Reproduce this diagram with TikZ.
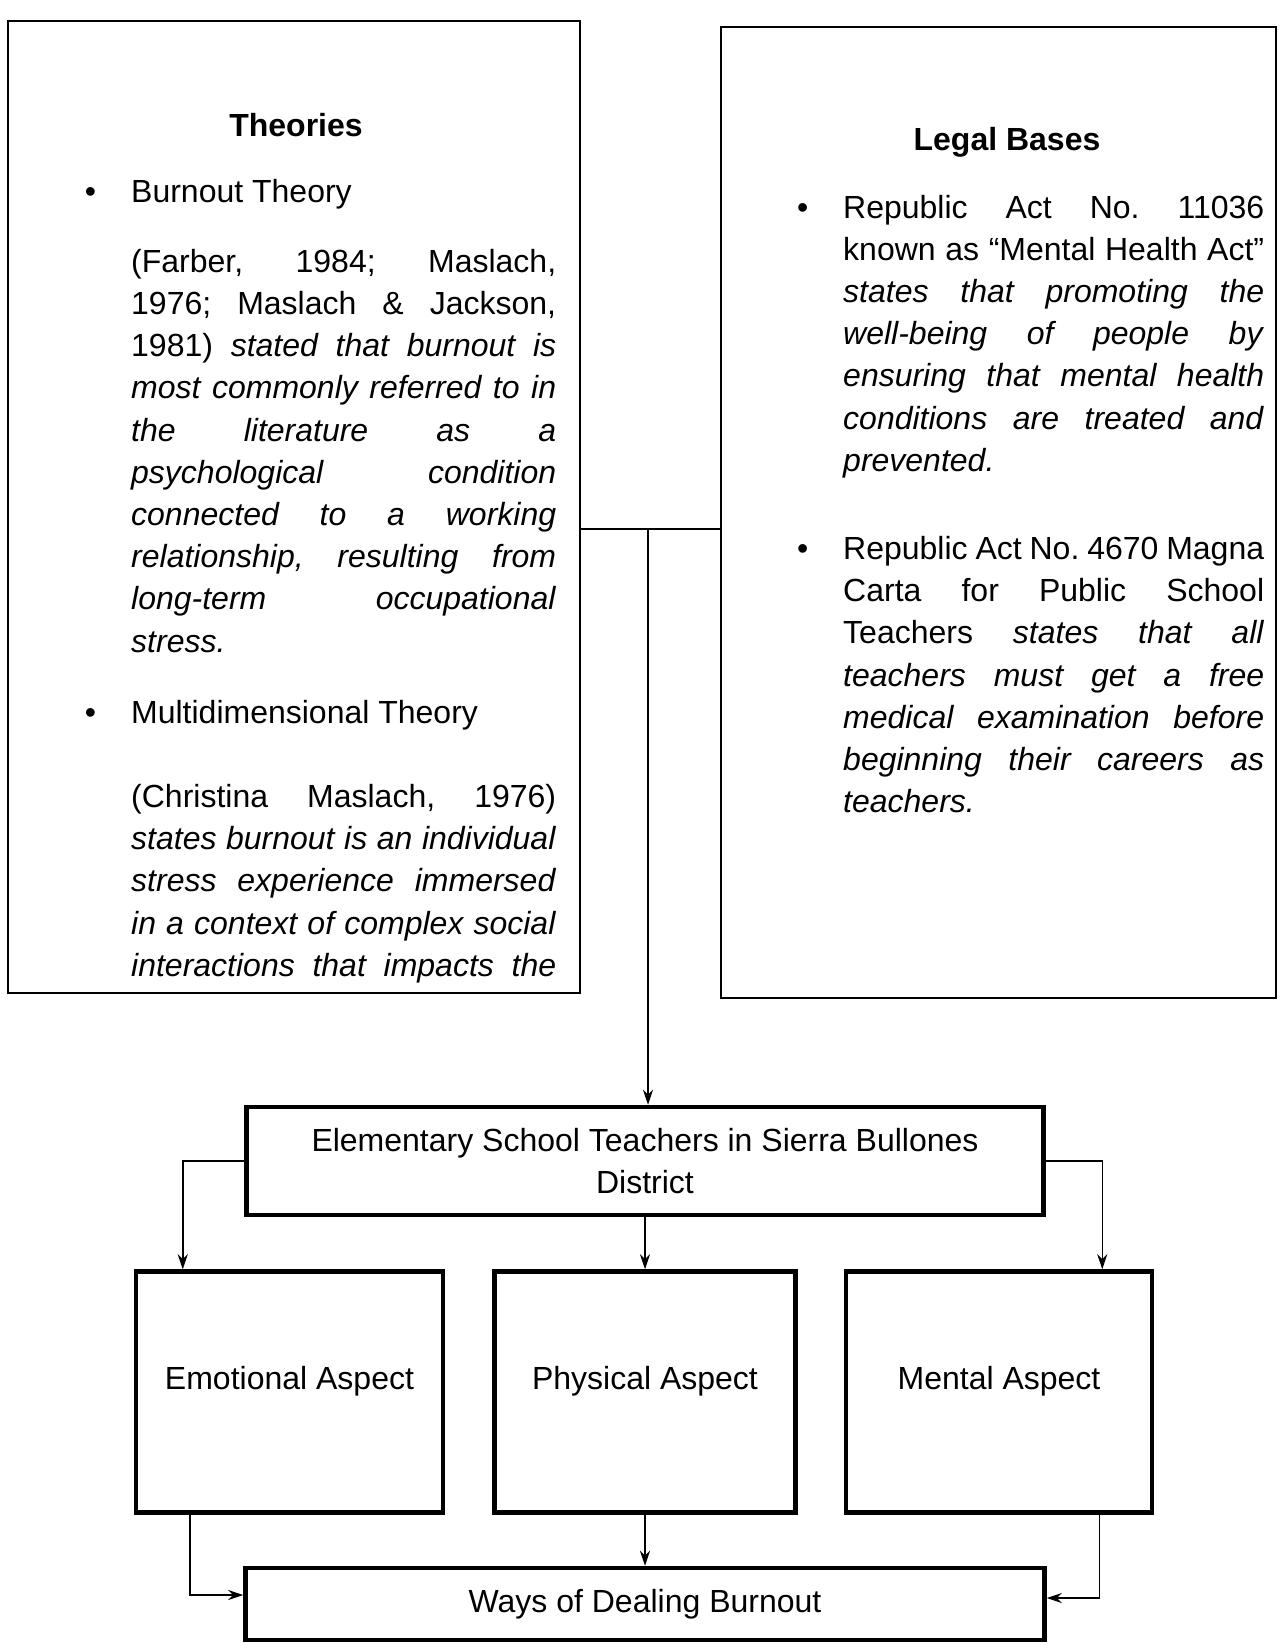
\documentclass[tikz,border=0pt]{standalone}
\usepackage{fontspec}
\setmainfont{Liberation Sans}
\usetikzlibrary{positioning}
\usetikzlibrary{arrows.meta}
\frenchspacing

\newlength{\colw}
\newcommand{\jline}[1]{\hbox to\colw{#1}}
\newcommand{\lline}[1]{\hbox{#1}}
\newcommand{\bul}{\llap{\textbullet\hspace{35pt}}}

\begin{document}
\begin{tikzpicture}[x=1pt, y=-1pt,
    every node/.style={font=\fontsize{32pt}{42.2pt}\selectfont},
    frame/.style={draw, line width=1.6pt, inner sep=0pt},
    thickbox/.style={draw, line width=4.5pt, inner sep=0pt, align=center},
    body/.style={inner sep=0pt, anchor=base west},
    arr/.style={-{Stealth[length=15pt, width=10pt]}, line width=1.5pt}]
  \useasboundingbox (0,0) rectangle (1280,1643);

  % Cajas de arriba
  \node[frame, minimum width=572pt, minimum height=972pt] (theo) at (294,507) {};
  \node[frame, minimum width=555pt, minimum height=971pt] (legal) at (998.5,512.5) {};

  \node[anchor=base] (theohead) at (296,136) {\textbf{Theories}};
  \node[body] (theotext) at (131,202) {\vtop{\setlength{\colw}{425pt}%
    \lline{\bul Burnout Theory}
    \vspace{28pt}
    \jline{(Farber, 1984; Maslach,}
    \jline{1976; Maslach \& Jackson,}
    \jline{1981) \textit{stated that burnout is}}
    \jline{\textit{most commonly referred to in}}
    \jline{\textit{the literature as a}}
    \jline{\textit{psychological condition}}
    \jline{\textit{connected to a working}}
    \jline{\textit{relationship, resulting from}}
    \jline{\textit{long-term occupational}}
    \lline{\textit{stress.}}
    \vspace{29pt}
    \lline{\bul Multidimensional Theory}
    \vspace{42pt}
    \jline{(Christina Maslach, 1976)}
    \jline{\textit{states burnout is an individual}}
    \jline{\textit{stress experience immersed}}
    \jline{\textit{in a context of complex social}}
    \jline{\textit{interactions that impacts the}}}};

  \node[anchor=base] (legalhead) at (1007,150) {\textbf{Legal Bases}};
  \node[body] (legaltext) at (843,218) {\vtop{\setlength{\colw}{421pt}%
    \jline{\bul Republic Act No. 11036}
    \jline{known as “Mental Health Act”}
    \jline{\textit{states that promoting the}}
    \jline{\textit{well-being of people by}}
    \jline{\textit{ensuring that mental health}}
    \jline{\textit{conditions are treated and}}
    \lline{\textit{prevented.}}
    \vspace{46pt}
    \jline{\bul Republic Act No. 4670 Magna}
    \jline{Carta for Public School}
    \jline{Teachers \textit{states that all}}
    \jline{\textit{teachers must get a free}}
    \jline{\textit{medical examination before}}
    \jline{\textit{beginning their careers as}}
    \lline{\textit{teachers.}}}};

  % Cajas de abajo
  \node[thickbox, minimum width=797pt, minimum height=108pt] (elem) at (645,1161)
    {Elementary School Teachers in Sierra Bullones\\District};
  \node[thickbox, minimum width=307pt, minimum height=241pt, text depth=29pt] (emo) at (289.5,1392) {Emotional Aspect};
  \node[thickbox, minimum width=301pt, minimum height=241pt, text depth=29pt] (phy) at (645,1392) {Physical Aspect};
  \node[thickbox, minimum width=306pt, minimum height=241pt, text depth=29pt] (men) at (999,1392) {Mental Aspect};
  \node[thickbox, minimum width=799pt, minimum height=72pt] (ways) at (645,1604) {Ways of Dealing Burnout};

  % Conectores
  \coordinate (jn) at (648,529);
  \draw[line width=1.5pt] (theo.east |- jn) -- (legal.west |- jn);
  \draw[arr] (jn) -- (jn |- elem.north);
  \draw[arr] (elem.west) -| ([xshift=49pt]emo.north west);
  \draw[arr] (elem.south) -- (phy.north);
  \draw[arr] (elem.east) -| ([xshift=-52pt]men.north east);
  \draw[arr] ([xshift=56pt]emo.south west) |- ([yshift=9pt]ways.west);
  \draw[arr] (phy.south) -- (ways.north);
  \draw[arr] ([xshift=-55pt]men.south east) |- ([yshift=6pt]ways.east);
\end{tikzpicture}
\end{document}
